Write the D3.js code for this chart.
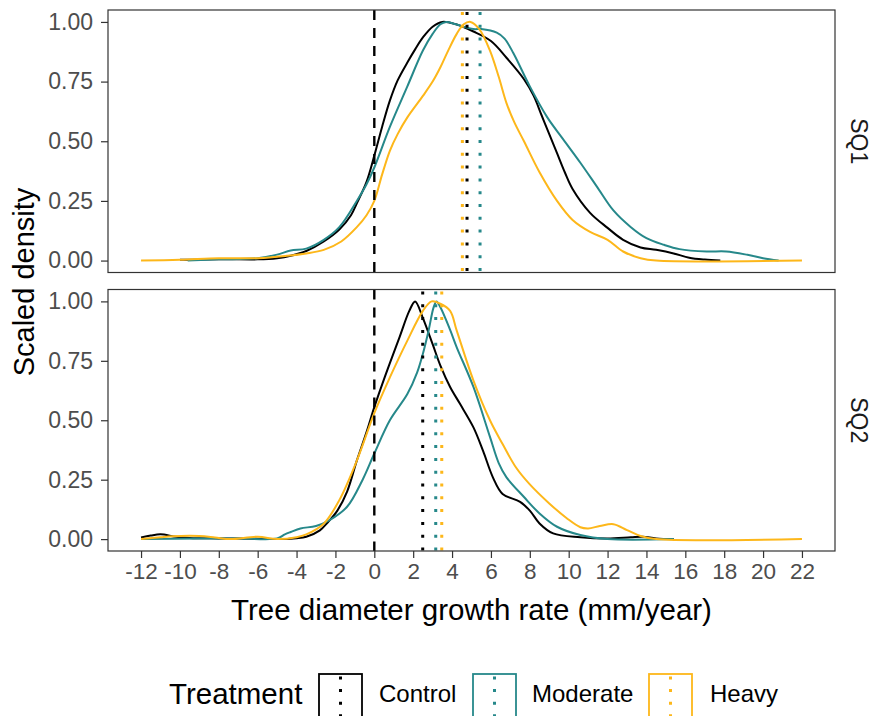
<!DOCTYPE html>
<html>
<head>
<meta charset="utf-8">
<script src="https://cdn.jsdelivr.net/npm/d3@7"></script>
<style>
  html, body { margin: 0; padding: 0; background: #fff; }
  svg { display: block; font-family: "Liberation Sans", Arial, sans-serif; }
</style>
</head>
<body>
<svg id="chart" width="872" height="716"></svg>
<script>
// ---------- data ----------
const treatments = ["Control", "Moderate", "Heavy"];
const panels = ["SQ1", "SQ2"];
const xTicks = [-12,-10,-8,-6,-4,-2,0,2,4,6,8,10,12,14,16,18,20,22];
const yTicks = [0, 0.25, 0.5, 0.75, 1];

// scaled density curves: [growth rate, scaled density]
const sq1Control = [[-10,0.003],[-8,0.006],[-6,0.005],[-5,0.01],[-4.3,0.02],[-3.5,0.04],[-2.6,0.08],[-1.8,0.13],[-1.2,0.19],[-0.9,0.24],[-0.4,0.33],[0,0.44],[0.4,0.56],[0.8,0.67],[1.2,0.755],[1.7,0.83],[2.1,0.885],[2.5,0.935],[3.0,0.98],[3.5,1.0],[4.2,0.99],[5.1,0.96],[6.0,0.92],[6.8,0.85],[7.7,0.76],[8.2,0.69],[8.6,0.61],[9.0,0.53],[9.4,0.45],[9.8,0.37],[10.2,0.30],[11.1,0.20],[12.0,0.137],[12.8,0.087],[13.7,0.055],[14.5,0.045],[15.4,0.03],[16.2,0.012],[17.0,0.004],[17.8,0.0]];
const sq1Moderate = [[-9.6,0.0],[-8,0.005],[-6,0.01],[-5,0.025],[-4.3,0.042],[-3.5,0.05],[-2.6,0.087],[-1.8,0.14],[-0.9,0.25],[-0.4,0.32],[0,0.39],[0.8,0.56],[1.7,0.73],[2.5,0.88],[3.0,0.95],[3.4,0.99],[3.7,1.0],[4.2,0.99],[5.1,0.97],[5.5,0.97],[6.3,0.955],[6.7,0.93],[7.15,0.87],[8.0,0.73],[8.9,0.60],[9.7,0.51],[10.6,0.41],[11.45,0.31],[12.3,0.21],[13.2,0.14],[14.0,0.094],[14.9,0.066],[15.7,0.048],[17.1,0.038],[18.1,0.038],[19.2,0.024],[20.0,0.01],[20.8,0.0]];
const sq1Heavy = [[-12,0],[-10,0.003],[-8,0.01],[-6,0.01],[-4.5,0.02],[-3.5,0.03],[-2.6,0.045],[-1.7,0.08],[-0.9,0.14],[-0.4,0.19],[0,0.25],[0.4,0.36],[0.8,0.46],[1.2,0.53],[1.7,0.60],[2.5,0.69],[3.0,0.75],[3.4,0.81],[3.8,0.88],[4.24,0.95],[4.6,0.99],[4.95,1.0],[5.4,0.97],[5.95,0.88],[6.4,0.77],[6.8,0.66],[7.2,0.58],[7.7,0.50],[8.5,0.37],[9.4,0.25],[10.2,0.17],[11.1,0.12],[12.0,0.087],[12.8,0.038],[13.7,0.01],[14.5,0.0],[22,0]];
const sq2Control = [[-12,0.007],[-11.5,0.015],[-11.0,0.02],[-10.2,0.01],[-9.5,0.005],[-8,0.003],[-6,0.002],[-5,0.0],[-4,0.004],[-3.5,0.01],[-2.8,0.037],[-2.4,0.07],[-1.9,0.12],[-1.4,0.2],[-0.9,0.33],[-0.4,0.45],[0,0.555],[0.4,0.65],[0.8,0.74],[1.3,0.85],[1.8,0.96],[2.1,1.0],[2.5,0.93],[3.0,0.82],[3.4,0.73],[3.9,0.64],[4.4,0.57],[5.1,0.47],[5.6,0.37],[6.1,0.26],[6.6,0.19],[7.5,0.157],[8.0,0.12],[8.5,0.066],[9.2,0.024],[10.6,0.008],[12,0.003],[13.2,0.008],[13.8,0.01],[14.5,0.003],[15.4,0.0]];
const sq2Moderate = [[-12,0],[-9,0.003],[-7,0.003],[-5,0.003],[-4.6,0.02],[-4.3,0.03],[-3.8,0.045],[-3.0,0.055],[-2.3,0.08],[-1.4,0.136],[-0.6,0.25],[0,0.36],[0.8,0.50],[1.7,0.61],[2.2,0.70],[2.5,0.78],[2.8,0.88],[3.05,0.975],[3.2,1.0],[3.4,0.975],[3.9,0.88],[4.24,0.807],[5.1,0.64],[5.95,0.43],[6.4,0.32],[6.8,0.26],[7.7,0.177],[8.5,0.108],[9.4,0.052],[10.6,0.017],[12,0.0],[15.4,0]];
const sq2Heavy = [[-12,0],[-11,0.008],[-10.4,0.012],[-9,0.013],[-8.2,0.007],[-7.4,0.0],[-6.0,0.01],[-5,0.0],[-4,0.008],[-3.5,0.02],[-2.6,0.065],[-1.8,0.164],[-0.9,0.33],[0,0.53],[0.8,0.68],[1.7,0.835],[2.5,0.96],[2.95,1.0],[3.4,0.99],[3.9,0.96],[4.24,0.877],[5.1,0.667],[5.95,0.50],[6.6,0.40],[7.3,0.30],[8.0,0.23],[9.0,0.15],[9.9,0.088],[10.6,0.05],[11.0,0.045],[11.6,0.055],[12.3,0.063],[13.0,0.038],[13.7,0.013],[14.5,0],[22,0]];

// mean growth per treatment (dotted lines)
const sq1Means = [4.77, 5.44, 4.53];
const sq2Means = [2.49, 3.16, 3.47];

// ---------- drawing ----------
const colors = { Control: "#000000", Moderate: "#26888A", Heavy: "#FDB71A" };
const curves = {
  SQ1: { Control: sq1Control, Moderate: sq1Moderate, Heavy: sq1Heavy },
  SQ2: { Control: sq2Control, Moderate: sq2Moderate, Heavy: sq2Heavy }
};
const means = { SQ1: sq1Means, SQ2: sq2Means };

const svg = d3.select("#chart");
const left = 108, right = 835;
const panelBox = { SQ1: [10, 272.5], SQ2: [289.5, 551] };

const x = d3.scaleLinear().domain([-13.7, 23.7]).range([left, right]);

const line = d3.line().curve(d3.curveCatmullRom.alpha(0.5));

panels.forEach((p, pi) => {
  const [top, bottom] = panelBox[p];
  const y = d3.scaleLinear().domain([-0.05, 1.05]).range([bottom, top]);
  const g = svg.append("g");

  g.append("rect").attr("x", left).attr("y", top).attr("width", right - left).attr("height", bottom - top)
    .attr("fill", "#fff");

  treatments.forEach(t => {
    g.append("path")
      .attr("d", line.x(d => x(d[0])).y(d => y(d[1]))(curves[p][t]))
      .attr("fill", "none").attr("stroke", colors[t]).attr("stroke-width", 2);
  });

  g.append("line").attr("x1", x(0)).attr("x2", x(0)).attr("y1", top).attr("y2", bottom)
    .attr("stroke", "#000").attr("stroke-width", 2.4).attr("stroke-dasharray", "10,8");

  treatments.forEach((t, i) => {
    g.append("line").attr("x1", x(means[p][i])).attr("x2", x(means[p][i]))
      .attr("y1", top + 2).attr("y2", bottom)
      .attr("stroke", colors[t]).attr("stroke-width", 3).attr("stroke-dasharray", "3,9.8");
  });

  g.append("rect").attr("x", left).attr("y", top).attr("width", right - left).attr("height", bottom - top)
    .attr("fill", "none").attr("stroke", "#333").attr("stroke-width", 1.2);

  const ya = g.append("g").attr("transform", `translate(${left},0)`)
    .call(d3.axisLeft(y).tickValues(yTicks).tickFormat(d3.format(".2f")).tickSize(7).tickPadding(8));
  ya.select(".domain").remove();
  ya.selectAll(".tick line").attr("stroke", "#333").attr("stroke-width", 1.2);
  ya.selectAll(".tick text").attr("fill", "#4d4d4d").style("font-size", "23px")
    .style("font-family", '"Liberation Sans", Arial, sans-serif');

  svg.append("text").attr("transform", `translate(859,${(top + bottom) / 2}) rotate(90)`)
    .attr("text-anchor", "middle").attr("dy", "0.35em")
    .style("font-size", "23px").attr("fill", "#1a1a1a").text(p);

  if (p === "SQ2") {
    const xa = svg.append("g").attr("transform", `translate(0,${bottom})`)
      .call(d3.axisBottom(x).tickValues(xTicks).tickFormat(d => String(d)).tickSize(7).tickPadding(5));
    xa.select(".domain").remove();
    xa.selectAll(".tick line").attr("stroke", "#333").attr("stroke-width", 1.2);
    xa.selectAll(".tick text").attr("fill", "#4d4d4d").style("font-size", "22.5px")
      .style("font-family", '"Liberation Sans", Arial, sans-serif');
  }
});

svg.append("text").attr("x", (left + right) / 2).attr("y", 620).attr("text-anchor", "middle")
  .style("font-size", "29.5px").attr("fill", "#000").text("Tree diameter growth rate (mm/year)");
svg.append("text").attr("transform", "translate(34,282) rotate(-90)").attr("text-anchor", "middle")
  .style("font-size", "29px").attr("fill", "#000").text("Scaled density");

const legend = svg.append("g");
legend.append("text").attr("x", 169).attr("y", 704).style("font-size", "29.5px").attr("fill", "#000").text("Treatment");
const keyX = [319, 473, 649];
const labelX = [379, 532, 710];
treatments.forEach((t, i) => {
  legend.append("rect").attr("x", keyX[i]).attr("y", 674).attr("width", 43).attr("height", 60)
    .attr("fill", "#fff").attr("stroke", colors[t]).attr("stroke-width", 1.8);
  legend.append("line").attr("x1", keyX[i] + 21.5).attr("x2", keyX[i] + 21.5).attr("y1", 676.5).attr("y2", 716)
    .attr("stroke", colors[t]).attr("stroke-width", 3).attr("stroke-dasharray", "3,9.6");
  legend.append("text").attr("x", labelX[i]).attr("y", 702).style("font-size", "24px").attr("fill", "#000").text(t);
});
</script>
</body>
</html>
